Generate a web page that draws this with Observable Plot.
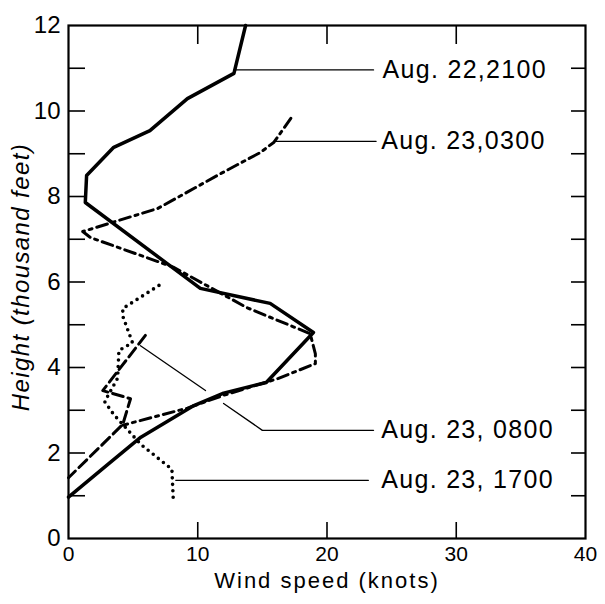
<!DOCTYPE html>
<html><head><meta charset="utf-8">
<script src="https://cdn.jsdelivr.net/npm/d3@7"></script>
<script src="https://cdn.jsdelivr.net/npm/@observablehq/plot@0.6"></script>
<style>html,body{margin:0;padding:0;background:#fff}</style>
</head><body><div id="chart"></div>
<script>
// Wind speed (knots) vs height (thousand feet) profiles
const seriesNames = ["Aug. 22,2100", "Aug. 23,0300", "Aug. 23, 0800", "Aug. 23, 1700"];

const speed2100  = [0, 3.0, 5.6, 9.7, 12.0, 15.3, 18.95, 15.6, 10.2, 1.3, 1.4, 3.5, 6.3, 9.2, 12.8, 13.7];
const height2100 = [0.97, 1.72, 2.37, 3.11, 3.40, 3.65, 4.82, 5.50, 5.85, 7.86, 8.49, 9.15, 9.54, 10.29, 10.88, 12.0];

const speed0300  = [17.2, 15.9, 14.85, 11.8, 6.9, 1.1, 1.7, 8.1, 13.8, 18.7, 19.1, 19.1, 16.2, 12.0, 9.2, 4.2];
const height0300 = [9.83, 9.27, 9.03, 8.54, 7.72, 7.18, 7.04, 6.35, 5.40, 4.79, 4.32, 4.09, 3.74, 3.35, 3.05, 2.65];

const speed0800  = [5.95, 2.65, 4.8, 4.2, 0];
const height0800 = [4.75, 3.46, 3.27, 2.67, 1.42];

const speed1700  = [7.0, 4.2, 4.2, 4.95, 3.9, 3.8, 2.8, 3.5, 4.4, 5.6, 8.0, 8.1];
const height1700 = [5.92, 5.38, 5.20, 4.58, 4.40, 3.75, 3.20, 2.90, 2.60, 2.20, 1.62, 0.95];

// leader lines (label callouts) and label anchor positions
const leaderIds     = ["a","a","b","b","c","c","d","d","d","e","e"];
const leaderSpeed   = [12.8, 23.6, 15.9, 23.8, 5.57, 10.6, 12.0, 15.0, 23.6, 8.3, 23.2];
const leaderHeight  = [10.96, 10.96, 9.29, 9.29, 4.51, 3.46, 3.16, 2.53, 2.53, 1.36, 1.36];
const labelSpeed    = [24.3, 24.2, 24.2, 24.2];
const labelHeight   = [10.96, 9.29, 2.53, 1.36];

const xLabelTicks = [0, 10, 20, 30, 40];
const xInnerTicks = [10, 20, 30];
const yLabelTicks = [0, 2, 4, 6, 8, 10, 12];
const yInnerTicks = [1, 2, 3, 4, 5, 6, 7, 8, 9, 10, 11];

const xTitle = "Wind speed (knots)";
const yTitle = "Height (thousand feet)";

const toRows = (name, xs, ys) => xs.map((x, i) => ({series: name, speed: x, height: ys[i]}));
const rows2100 = toRows(seriesNames[0], speed2100, height2100);
const rows0300 = toRows(seriesNames[1], speed0300, height0300);
const rows0800 = toRows(seriesNames[2], speed0800, height0800);
const rows1700 = toRows(seriesNames[3], speed1700, height1700);
const leaders = leaderIds.map((id, i) => ({id, speed: leaderSpeed[i], height: leaderHeight[i]}));
const labels = seriesNames.map((n, i) => ({text: n, speed: labelSpeed[i], height: labelHeight[i]}));

const font = "Liberation Sans, Arial, sans-serif";

const chart = Plot.plot({
  width: 605,
  height: 604,
  marginLeft: 68,
  marginRight: 20,
  marginTop: 25,
  marginBottom: 66,
  style: {fontFamily: font, color: "black", background: "white", overflow: "visible"},
  x: {domain: [0, 40]},
  y: {domain: [0, 12]},
  marks: [
    Plot.axisY(yInnerTicks, {anchor: "left", tickSize: -17, text: null, label: null, strokeWidth: 1.6}),
    Plot.axisY(yInnerTicks, {anchor: "right", tickSize: -15, text: null, label: null, strokeWidth: 1.6}),
    Plot.axisY(yLabelTicks, {anchor: "left", tickSize: 0, tickPadding: 8, fontSize: 24, label: null}),
    Plot.axisX(xInnerTicks, {anchor: "top", tickSize: -18, text: null, label: null, strokeWidth: 1.6}),
    Plot.axisX(xInnerTicks, {anchor: "bottom", tickSize: -16, text: null, label: null, strokeWidth: 1.6}),
    Plot.axisX(xLabelTicks, {anchor: "bottom", tickSize: 0, tickPadding: 8, fontSize: 21, label: null}),
    Plot.text([xTitle], {frameAnchor: "bottom", lineAnchor: "middle", dy: 42, fontSize: 22, fill: "black"}),
    Plot.text([yTitle], {frameAnchor: "left", textAnchor: "middle", dx: -47, dy: -5, rotate: -90, fontSize: 24, fontStyle: "italic", fill: "black"}),
    Plot.line(leaders, {x: "speed", y: "height", z: "id", stroke: "black", strokeWidth: 1.3}),
    Plot.line(rows2100, {x: "speed", y: "height", stroke: "black", strokeWidth: 3.5, strokeLinejoin: "round"}),
    Plot.line(rows0300, {x: "speed", y: "height", stroke: "black", strokeWidth: 3, strokeDasharray: "11,5,3,5"}),
    Plot.line(rows0800, {x: "speed", y: "height", stroke: "black", strokeWidth: 3, strokeDasharray: "11,5"}),
    Plot.line(rows1700, {x: "speed", y: "height", stroke: "black", strokeWidth: 3.6, strokeDasharray: "0,6.5", strokeLinecap: "round"}),
    Plot.text(labels, {x: "speed", y: "height", text: "text", textAnchor: "start", fontSize: 25, fill: "black"}),
    Plot.frame({stroke: "black", strokeWidth: 2.2})
  ]
});
// letter spacing of the hand-lettered texts
d3.select(chart).selectAll("text").each(function() {
  const t = this.textContent;
  if (seriesNames.includes(t)) this.setAttribute("letter-spacing", "1.3px");
  else if (t === xTitle) this.setAttribute("letter-spacing", "2px");
  else if (t === yTitle) this.setAttribute("letter-spacing", "1.4px");
});
document.getElementById("chart").appendChild(chart);
</script>
</body></html>
